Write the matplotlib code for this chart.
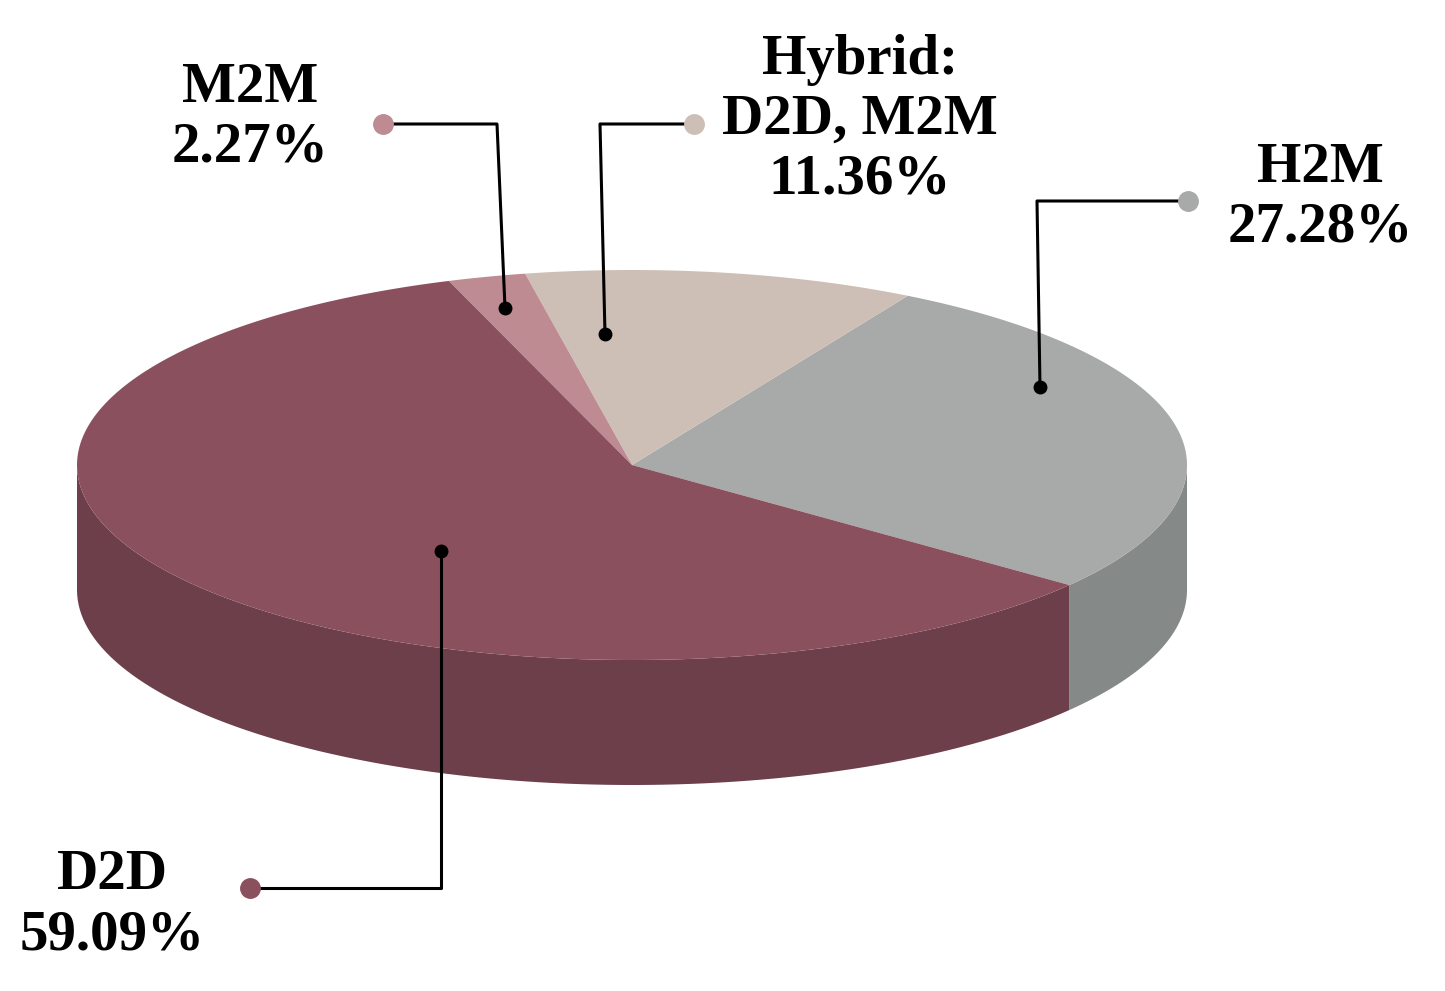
import numpy as np
import matplotlib.pyplot as plt
from matplotlib.patches import Polygon

labels = ["H2M", "Hybrid:\nD2D, M2M", "M2M", "D2D"]
values = [27.28, 11.36, 2.27, 59.09]
top_colors = ["#A7AAA8", "#CDBFB5", "#BE8B92", "#8B505E"]
side_colors = ["#858988", "#A89C93", "#9A6F75", "#6C3F4A"]

# geometry of the pseudo-3d pie (pixel coordinates)
cx, cy, rx, ry, depth = 632, 465, 555, 195, 125
start = -38.0

def pt(t, off=0):
    r = np.radians(t)
    return cx + rx * np.cos(r), cy - ry * np.sin(r) + off

fig = plt.figure(figsize=(14.45, 9.91), dpi=100)
ax = fig.add_axes([0, 0, 1, 1])
ax.set_xlim(0, 1445)
ax.set_ylim(991, 0)
ax.axis("off")

angles = np.cumsum([0] + [v / sum(values) * 360 for v in values]) + start

# side walls (front half: 180..360 deg)
for i in range(len(values)):
    a0, a1 = angles[i], angles[i + 1]
    for shift in (-360, 0, 360):
        lo, hi = max(a0 + shift, 180), min(a1 + shift, 360)
        if hi > lo:
            ts = np.linspace(lo, hi, 100)
            top = [pt(t) for t in ts]
            bot = [pt(t, depth) for t in ts[::-1]]
            ax.add_patch(Polygon(top + bot, closed=True, fc=side_colors[i], ec="none"))

# top faces
for i in range(len(values)):
    ts = np.linspace(angles[i], angles[i + 1], 200)
    verts = [(cx, cy)] + [pt(t) for t in ts]
    ax.add_patch(Polygon(verts, closed=True, fc=top_colors[i], ec="none"))

# leader lines: (label dot, elbow, anchor)
leaders = [
    [(1188, 201), (1037, 201), (1040, 387)],
    [(694, 124), (600, 124), (605, 334)],
    [(383, 124), (497, 124), (505, 308)],
    [(250, 888), (441, 888), (441, 551)],
]
for i, pts in enumerate(leaders):
    xs, ys = zip(*pts)
    ax.plot(xs, ys, color="black", lw=2.2, zorder=3)
    ax.plot(xs[0], ys[0], "o", ms=14, color=top_colors[i], zorder=4)
    ax.plot(xs[-1], ys[-1], "o", ms=9, color="black", zorder=4)

text_pos = [(1320, 198), (860, 120), (250, 118), (112, 905)]
font = dict(family=["Liberation Serif", "DejaVu Serif"], fontsize=41,
            fontweight="bold", ha="center", va="center", linespacing=1.2)
for i, (x, y) in enumerate(text_pos):
    ax.text(x, y, f"{labels[i]}\n{values[i]:.2f}%", **font)

fig.savefig("out.png", dpi=100)
